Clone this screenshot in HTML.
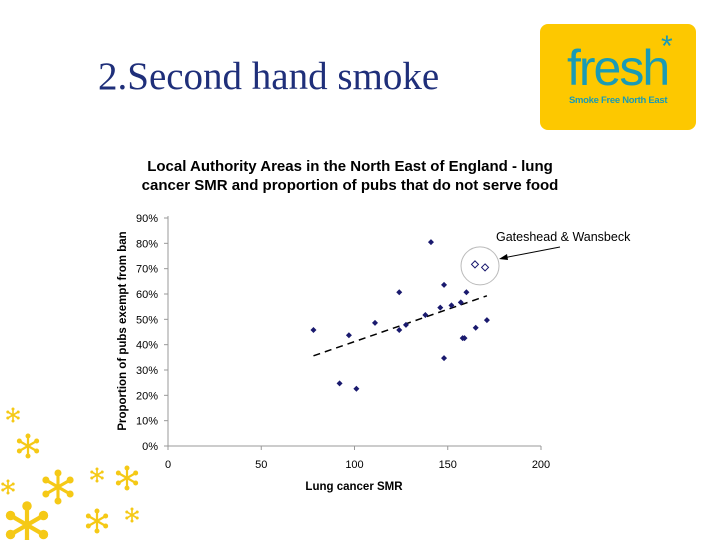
<!DOCTYPE html>
<html><head><meta charset="utf-8"><style>
body{margin:0;background:#fff;}
#root{position:relative;width:720px;height:540px;overflow:hidden;background:#fff;font-family:"Liberation Sans",sans-serif;}
</style></head><body>
<div id="root">
<div style="position:absolute;left:98px;top:57px;font-family:'Liberation Serif',serif;font-size:39px;line-height:1;color:#1f2f7a;">2.Second hand smoke</div>
<div style="position:absolute;left:540px;top:24px;width:156px;height:106px;background:#fdc800;border-radius:8px;">
 <div style="position:absolute;left:27px;top:16px;font-size:50px;color:#1a9bb5;letter-spacing:-2px;line-height:56px;">fresh</div>
 <div style="position:absolute;left:121px;top:8px;font-size:30px;color:#1a9bb5;line-height:30px;">*</div>
 <div style="position:absolute;left:29px;top:71px;font-size:9.5px;font-weight:bold;color:#1a9bb5;letter-spacing:-0.3px;">Smoke Free North East</div>
</div>
<svg id="chart" width="720" height="540" style="position:absolute;left:0;top:0;"></svg>
</div>
<script>
const xTicks=[0,50,100,150,200];
const yTicks=[0,10,20,30,40,50,60,70,80,90];
const smrValues=[78,92,97,101,111,124,124,127.6,138,141,146,148,148,152,157,158,159,160,165,171];
const pubPercents=[45.8,24.7,43.7,22.6,48.6,60.7,45.8,47.8,51.7,80.5,54.6,63.6,34.7,55.5,56.7,42.6,42.6,60.7,46.7,49.7];
const highlightSmr=[164.6,170];
const highlightPct=[71.7,70.5];
const trendX=[78,171];
const trendY=[35.6,59.3];
const NS='http://www.w3.org/2000/svg';
const svg=document.getElementById('chart');
const X0=168,X1=541,Y0=446,Y1=218;
const xs=v=>X0+(v-0)/200*(X1-X0);
const ys=v=>Y0-(v/90)*(Y0-Y1);
function mk(t,a){const e=document.createElementNS(NS,t);for(const k in a)e.setAttribute(k,a[k]);svg.appendChild(e);return e;}
const stars=[[13,415,6],[28,446,10],[8,487,6],[58,487,14],[97,475,6],[127,478,10],[27,525,19],[97,521,10],[132,515,6]];
stars.forEach(s=>{const g=document.createElementNS(NS,'g');


for(let i=0;i<6;i++){const a=i*Math.PI/3+Math.PI/2;const ex=s[0]+s[2]*Math.cos(a),ey=s[1]-s[2]*Math.sin(a);
const l=document.createElementNS(NS,'line');
l.setAttribute('x1',s[0]);l.setAttribute('y1',s[1]);l.setAttribute('x2',ex);l.setAttribute('y2',ey);
l.setAttribute('stroke','#f5c916');l.setAttribute('stroke-width',Math.max(1.6,s[2]/4.5));l.setAttribute('stroke-linecap','round');g.appendChild(l);
const d=document.createElementNS(NS,'circle');d.setAttribute('cx',ex);d.setAttribute('cy',ey);d.setAttribute('r',Math.max(1.2,s[2]/4));d.setAttribute('fill','#f5c916');g.appendChild(d);}
svg.appendChild(g);});
let t=mk('text',{x:350,y:171,'text-anchor':'middle','font-size':15,'font-weight':'bold','font-family':'Liberation Sans, sans-serif'});
t.textContent='Local Authority Areas in the North East of England - lung';

t=mk('text',{x:350,y:190,'text-anchor':'middle','font-size':15,'font-weight':'bold','font-family':'Liberation Sans, sans-serif'});
t.textContent='cancer SMR and proportion of pubs that do not serve food';

let ax=mk('line',{x1:X0,y1:Y1-2,x2:X0,y2:Y0,stroke:'#999','stroke-width':1});

ax=mk('line',{x1:X0,y1:Y0,x2:X1,y2:Y0,stroke:'#999','stroke-width':1});

yTicks.forEach(v=>{mk('line',{x1:X0-4,y1:ys(v),x2:X0,y2:ys(v),stroke:'#999'});
const e=mk('text',{x:X0-10,y:ys(v)+4,'text-anchor':'end','font-size':11});e.textContent=v+'%';
});
xTicks.forEach(v=>{mk('line',{x1:xs(v),y1:Y0,x2:xs(v),y2:Y0+4,stroke:'#999'});
const e=mk('text',{x:xs(v),y:Y0+22,'text-anchor':'middle','font-size':11});e.textContent=v;
});
t=mk('text',{x:354,y:490,'text-anchor':'middle','font-size':11.5,'font-weight':'bold'});t.textContent='Lung cancer SMR';

t=mk('text',{x:0,y:0,'text-anchor':'middle','font-size':11.5,'font-weight':'bold',transform:'translate(126,331) rotate(-90)'});t.textContent='Proportion of pubs exempt from ban';

const tl=mk('line',{x1:xs(trendX[0]),y1:ys(trendY[0]),x2:xs(trendX[1]),y2:ys(trendY[1]),stroke:'#000','stroke-width':1.5,'stroke-dasharray':'7,5'});

smrValues.forEach((v,i)=>{const x=xs(v),y=ys(pubPercents[i]);
const p=mk('polygon',{points:`${x},${y-3} ${x+3},${y} ${x},${y+3} ${x-3},${y}`,fill:'#1a1a6e'});
});
const cx=(xs(highlightSmr[0])+xs(highlightSmr[1]))/2,cy=(ys(highlightPct[0])+ys(highlightPct[1]))/2;
const c=mk('circle',{cx:cx,cy:cy,r:19,fill:'none',stroke:'#bbb','stroke-width':1});

highlightSmr.forEach((v,i)=>{const x=xs(v),y=ys(highlightPct[i]);
const p=mk('polygon',{points:`${x},${y-3.5} ${x+3.5},${y} ${x},${y+3.5} ${x-3.5},${y}`,fill:'#fff',stroke:'#1a1a6e','stroke-width':1});
});
const ar=mk('line',{x1:560,y1:247,x2:503,y2:258,stroke:'#000','stroke-width':1});

const ah=mk('polygon',{points:'499,259 507,254 508,260',fill:'#000'});

t=mk('text',{x:496,y:241,'font-size':12.5});t.textContent='Gateshead & Wansbeck';

</script>
</body></html>
